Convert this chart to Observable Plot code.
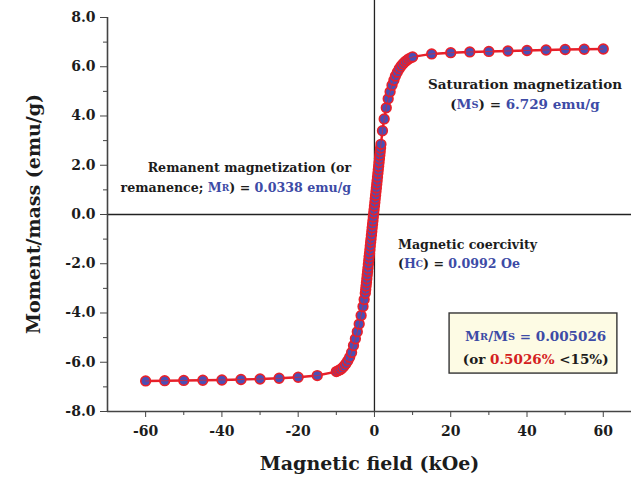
<!DOCTYPE html>
<html>
<head>
<meta charset="utf-8">
<script src="https://cdn.jsdelivr.net/npm/d3@7"></script>
<script src="https://cdn.jsdelivr.net/npm/@observablehq/plot@0.6"></script>
<style>
  html, body { margin: 0; padding: 0; background: #fff; }
  #chart svg { display: block; }
</style>
</head>
<body>
<div id="chart"></div>
<script>
// ---- data ----
const field = [
  -60, -55, -50, -45, -40, -35, -30, -25, -20, -15,
  -10, -9.5, -9, -8.5, -8, -7.5, -7, -6.5, -6, -5.5, -5, -4.5, -4, -3.5, -3, -2.7,
  -2.4, -2.3, -2.2, -2.1, -2.0, -1.9, -1.8, -1.7, -1.6, -1.5, -1.4, -1.3, -1.2, -1.1, -1.0,
  -0.9, -0.8, -0.7, -0.6, -0.5, -0.4, -0.3, -0.2, -0.1, 0.0, 0.1, 0.2, 0.3, 0.4, 0.5,
  0.6, 0.7, 0.8, 0.9, 1.0, 1.1, 1.2, 1.3, 1.4, 1.5, 1.6, 1.7,
  2.1, 2.55, 3.1, 3.6, 4.1, 4.6, 5.1, 5.5, 6, 6.5, 7, 7.5, 8, 8.5, 9, 9.5, 10,
  15, 20, 25, 30, 35, 40, 45, 50, 55, 60
];
const moment = [
  -6.76, -6.75, -6.74, -6.73, -6.72, -6.70, -6.68, -6.65, -6.61, -6.54,
  -6.38, -6.34, -6.30, -6.24, -6.16, -6.06, -5.94, -5.80, -5.60, -5.32, -5.05, -4.76, -4.45, -4.10, -3.74, -3.45,
  -3.20, -3.05, -2.90, -2.76, -2.61, -2.46, -2.31, -2.17, -2.02, -1.87, -1.72, -1.58, -1.43, -1.28, -1.13,
  -0.99, -0.84, -0.69, -0.54, -0.40, -0.25, -0.10, 0.05, 0.19, 0.34, 0.49, 0.64, 0.78, 0.93, 1.08,
  1.23, 1.37, 1.52, 1.67, 1.82, 1.96, 2.11, 2.26, 2.41, 2.55, 2.70, 2.85,
  3.40, 3.88, 4.33, 4.70, 4.98, 5.25, 5.45, 5.62, 5.78, 5.92, 6.03, 6.12, 6.20, 6.26, 6.32, 6.36, 6.40,
  6.52, 6.57, 6.60, 6.62, 6.64, 6.66, 6.68, 6.70, 6.71, 6.72
];
const yMajorTicks = [-8, -6, -4, -2, 0, 2, 4, 6, 8];
const yMinorTicks = [-7, -5, -3, -1, 1, 3, 5, 7];
const xMajorTicks = [-60, -40, -20, 0, 20, 40, 60];
const xMinorTicks = [-50, -30, -10, 10, 30, 50];
const xTitle = "Magnetic field (kOe)";
const yTitle = "Moment/mass (emu/g)";

const points = field.map((h, i) => ({h, m: moment[i]}));

const FONT = "DejaVu Serif";
const RED = "#e8202a";
const BLUE = "#3d4ba6";
const INK = "#1c1c1c";

const chart = Plot.plot({
  width: 631,
  height: 479,
  marginLeft: 107,
  marginRight: 0,
  marginTop: 0,
  marginBottom: 68,
  style: {fontFamily: FONT, fontWeight: "bold", fontSize: "14px", color: "#222", background: "#fff"},
  x: {domain: [-70, 67.4]},
  y: {domain: [-8, 8.69]},
  marks: [
    // zero lines
    Plot.ruleY([0], {stroke: "#222", strokeWidth: 1.3}),
    Plot.ruleX([0], {stroke: "#222", strokeWidth: 1.3}),
    // axes
    Plot.ruleY([-8], {stroke: "#444", strokeWidth: 1.6}),
    Plot.ruleX([-70], {y1: -8, y2: 8, stroke: "#444", strokeWidth: 1.6}),
    Plot.axisY(yMajorTicks, {tickSize: 7, tickPadding: 5, tickFormat: d => d.toFixed(1), label: null, stroke: "#444", fill: INK, fontSize: 14, fontWeight: "bold"}),
    Plot.axisY(yMinorTicks, {tickSize: 4, text: null, label: null, stroke: "#444"}),
    Plot.axisX(xMajorTicks, {tickSize: 6, tickPadding: 9, tickFormat: d => String(d), label: null, stroke: "#444", fill: INK, fontSize: 14, fontWeight: "bold"}),
    Plot.axisX(xMinorTicks, {tickSize: 4, text: null, label: null, stroke: "#444"}),
    // x title
    Plot.text([xTitle], {text: d => d, frameAnchor: "bottom", dy: 58, fontSize: 19, fontWeight: "bold", fill: INK}),
    // data
    Plot.line(points, {x: "h", y: "m", stroke: RED, strokeWidth: 2.4}),
    Plot.dot(points, {x: "h", y: "m", r: 4.8, fill: "#4a4fb5", stroke: RED, strokeWidth: 1.7}),
    Plot.line(points, {x: "h", y: "m", stroke: RED, strokeWidth: 0.9, strokeOpacity: 0.8})
  ]
});

document.getElementById("chart").appendChild(chart);

const sx = chart.scale("x"), sy = chart.scale("y");
const svg = d3.select(chart);

// y title, centred on the zero line
svg.append("text")
  .attr("transform", `translate(33,${sy.apply(0)}) rotate(-90)`)
  .attr("text-anchor", "middle").attr("dominant-baseline", "central")
  .attr("font-family", FONT).attr("font-weight", "bold").attr("font-size", 19)
  .attr("fill", INK).text(yTitle);

// ---- annotations placed through the chart's scales ----
const g = svg.append("g").attr("font-family", FONT).attr("font-weight", "bold").attr("font-size", 13.5);

function line(x, y, anchor, parts, size) {
  const t = g.append("text")
    .attr("x", sx.apply(x)).attr("y", sy.apply(y))
    .attr("text-anchor", anchor).attr("dominant-baseline", "central");
  if (size) t.attr("font-size", size);
  for (const [str, color, small] of parts) {
    const ts = t.append("tspan").attr("fill", color).text(str);
    if (small) ts.attr("font-size", "0.72em");
  }
}

// box behind ratio text
const bx0 = sx.apply(19.7), bx1 = sx.apply(63.7), by0 = sy.apply(-4.02), by1 = sy.apply(-6.46);
g.append("rect").attr("x", bx0).attr("y", by0).attr("width", bx1 - bx0).attr("height", by1 - by0)
  .attr("fill", "#fdfbe4").attr("stroke", "#333").attr("stroke-width", 1.4);

line(-6.0, 1.9, "end", [["Remanent magnetization (or", INK]], 12.6);
line(-6.0, 1.1, "end", [["remanence; ", INK], ["M", BLUE], ["R", BLUE, true], [") = ", INK], ["0.0338 emu/g", BLUE]], 12.6);

line(39.6, 5.29, "middle", [["Saturation magnetization", INK]]);
line(39.6, 4.47, "middle", [["(", INK], ["M", BLUE], ["S", BLUE, true], [") = ", INK], ["6.729 emu/g", BLUE]]);

line(6.3, -1.22, "start", [["Magnetic coercivity", INK]], 12.6);
line(6.3, -1.99, "start", [["(", INK], ["H", BLUE], ["C", BLUE, true], [") = ", INK], ["0.0992 Oe", BLUE]], 12.6);

line(42.4, -4.94, "middle", [["M", BLUE], ["R", BLUE, true], ["/M", BLUE], ["S", BLUE, true], [" = 0.005026", BLUE]]);
line(42.4, -5.9, "middle", [["(or ", INK], ["0.5026%", "#d42020"], [" <15%)", INK]]);
</script>
</body>
</html>
